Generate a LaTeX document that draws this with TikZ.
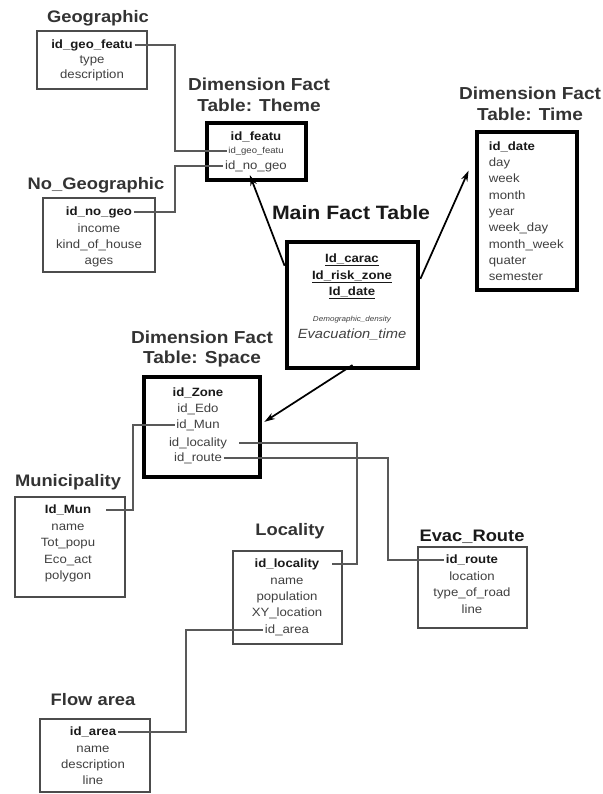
\documentclass[tikz,border=0pt]{standalone}
\usepackage{fontspec}
\setmainfont[FakeStretch=1.1]{Liberation Sans}
\usetikzlibrary{arrows.meta,fit,calc}

\tikzset{every picture/.style={line width=0.75pt}}
\tikzset{
  ttl/.style={text=black!80, font=\bfseries\fontsize{12.5}{15}\selectfont, align=center, inner sep=0pt},
  dimttl/.style={ttl, font=\bfseries\fontsize{13}{15.5}\selectfont},
  fld/.style={text=black!75, font=\fontsize{9}{11}\selectfont, inner sep=1pt, text height=7pt, text depth=2pt},
  key/.style={fld, text=black!90, font=\bfseries\fontsize{9}{11}\selectfont},
  tbl/.style={draw=black!70, line width=1.2pt, inner sep=0pt},
  dimtbl/.style={draw=black, line width=2.6pt, inner sep=0pt},
  link/.style={draw=black!65, line width=0.9pt},
  arr/.style={draw=black, line width=1.3pt, -{Stealth[length=8pt,width=5pt]}}
}

\begin{document}
\begin{tikzpicture}[x=0.75pt,y=0.75pt,yscale=-1,xscale=1]
	\useasboundingbox (0,0) rectangle (603,794);

	%Shape: Tables
	\node [tbl, fit={(37,31) (147,89)}] (geobox) {};
	\node [tbl, fit={(43,198) (155,272)}] (nogeobox) {};
	\node [dimtbl, fit={(207,123) (306,180)}] (themebox) {};
	\node [dimtbl, fit={(477,132) (577,290)}] (timebox) {};
	\node [dimtbl, line width=3.6pt, fit={(287,242) (418,368)}] (mainbox) {};
	\node [dimtbl, fit={(144,377) (260,477)}] (spacebox) {};
	\node [tbl, fit={(15,497) (125,597)}] (munbox) {};
	\node [tbl, fit={(233,551) (342,644)}] (locbox) {};
	\node [tbl, fit={(418,547) (527,628)}] (routebox) {};
	\node [tbl, fit={(40,719) (150,792)}] (areabox) {};

	% Text Node: titles
	\node [ttl] (geottl) at (98,18) {Geographic};
	\node [ttl] (nogeottl) at (96,185) {No\_Geographic};
	\node [dimttl] (themettl) at (259,95) {Dimension Fact\\Table: Theme};
	\node [dimttl] (timettl) at (530,104) {Dimension Fact\\Table: Time};
	\node [ttl, text=black!90, font=\bfseries\fontsize{14.5}{17}\selectfont] (mainttl) at (351,213) {Main Fact Table};
	\node [dimttl] (spacettl) at (202,349) {Dimension Fact\\Table: Space};
	\node [ttl] (munttl) at (68,482) {Municipality};
	\node [ttl] (locttl) at (290,531) {Locality};
	\node [ttl, text=black!90] (routettl) at (472,537) {Evac\_Route};
	\node [ttl] (areattl) at (93,700) {Flow area};

	% Text Node: Geographic
	\node [key] (geoid) at (92,45) {id\_geo\_featu};
	\node [fld] (geotype) at (92,60) {type};
	\node [fld] (geodesc) at (92,75) {description};
	% Text Node: No_Geographic
	\node [key] (nogeoid) at (99,212) {id\_no\_geo};
	\node [fld] (nogeoinc) at (99,229) {income};
	\node [fld] (nogeokind) at (99,245) {kind\_of\_house};
	\node [fld] (nogeoages) at (99,261) {ages};
	% Text Node: Theme
	\node [key] (themeid) at (256,137) {id\_featu};
	\node [fld, font=\fontsize{6.5}{8}\selectfont, text height=5pt, text depth=1.5pt] (themegeo) at (256,151) {id\_geo\_featu};
	\node [fld] (themenogeo) at (256,166) {id\_no\_geo};
	% Text Node: Time
	\foreach \lbl [count=\i] in {day,week,month,year,week\_day,month\_week,quater,semester}
		\node [fld, anchor=west] (time\i) at (487,147+16.3*\i) {\lbl};
	\node [key, anchor=west] (timeid) at (487,147) {id\_date};
	% Text Node: Main
	\node [key] (maincarac) at (352,259) {\underline{Id\_carac}};
	\node [key] (mainrisk) at (352,276) {\underline{Id\_risk\_zone}};
	\node [key] (maindate) at (352,292) {\underline{Id\_date}};
	\node [fld, font=\itshape\fontsize{5.5}{7}\selectfont, text height=4pt, text depth=1.2pt] (maindens) at (352,320) {Demographic\_density};
	\node [fld, font=\itshape\fontsize{10}{12}\selectfont, text height=7.5pt, text depth=2.2pt] (mainevac) at (352,335) {Evacuation\_time};
	% Text Node: Space
	\node [key] (spaceid) at (198,393) {id\_Zone};
	\node [fld] (spaceedo) at (198,409) {id\_Edo};
	\node [fld] (spacemun) at (198,425) {id\_Mun};
	\node [fld] (spaceloc) at (198,443) {id\_locality};
	\node [fld] (spaceroute) at (198,458) {id\_route};
	% Text Node: Municipality
	\node [key] (munid) at (68,510) {Id\_Mun};
	\node [fld] (munname) at (68,527) {name};
	\node [fld] (munpopu) at (68,543) {Tot\_popu};
	\node [fld] (muneco) at (68,560) {Eco\_act};
	\node [fld] (munpoly) at (68,576) {polygon};
	% Text Node: Locality
	\node [key] (locid) at (287,564) {id\_locality};
	\node [fld] (locname) at (287,581) {name};
	\node [fld] (locpop) at (287,597) {population};
	\node [fld] (locxy) at (287,613) {XY\_location};
	\node [fld] (locarea) at (287,630) {id\_area};
	% Text Node: Evac_Route
	\node [key] (routeid) at (472,560) {id\_route};
	\node [fld] (routeloc) at (472,577) {location};
	\node [fld] (routetype) at (472,593) {type\_of\_road};
	\node [fld] (routeline) at (472,610) {line};
	% Text Node: Flow area
	\node [key] (areaid) at (93,732) {id\_area};
	\node [fld] (areaname) at (93,749) {name};
	\node [fld] (areadesc) at (93,765) {description};
	\node [fld] (arealine) at (93,781) {line};

	%Straight Lines: keys
	\draw [link] (geoid.east) -| (175,100) |- (themegeo.west);
	\draw [link] (nogeoid.east) -| (175,190) |- (themenogeo.west);
	\draw [link] (spacemun.west) -| (133,470) |- ([xshift=10pt]munid.east);
	\draw [link] ([xshift=8pt]spaceloc.east) -| (357,500) |- ([xshift=8pt]locid.east);
	\draw [link] (spaceroute.east) -| (388,500) |- (routeid.west);
	\draw [link] (areaid.east) -| (186,680) |- (locarea.west);

	%Straight Lines: arrows
	\draw [arr] ($(mainbox.north west)!0.2!(mainbox.south west)$) -- ([xshift=-5pt,yshift=-5pt]themebox.south);
	\draw [arr] ($(mainbox.north east)!0.3!(mainbox.south east)$) -- ([xshift=-5pt]$(timebox.north west)!0.25!(timebox.south west)$);
	\draw [arr] ([yshift=-4pt]mainbox.south) -- ([xshift=2pt]$(spacebox.north east)!0.45!(spacebox.south east)$);

\end{tikzpicture}
\end{document}
